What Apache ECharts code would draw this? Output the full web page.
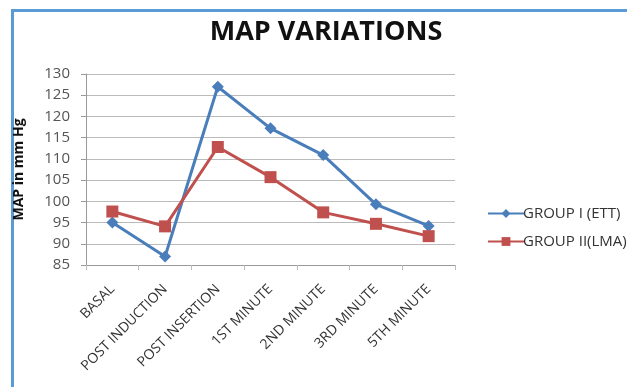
<!DOCTYPE html>
<html>
<head>
<meta charset="utf-8">
<script src="https://cdn.jsdelivr.net/npm/echarts@6/dist/echarts.min.js"></script>
<style>
  html, body { margin: 0; padding: 0; background: #fff; }
  #chart { width: 627px; height: 387px; }
</style>
</head>
<body>
<div id="chart"></div>
<script>
var categories = ['BASAL', 'POST INDUCTION', 'POST INSERTION', '1ST MINUTE', '2ND MINUTE', '3RD MINUTE', '5TH MINUTE'];
var groupI = [95, 87, 127, 117.2, 110.9, 99.3, 94.2];
var groupII = [97.6, 94.1, 112.8, 105.7, 97.4, 94.7, 91.8];
var seriesNames = ['GROUP I (ETT)', 'GROUP II(LMA)'];

var chart = echarts.init(document.getElementById('chart'));

var option = {
    backgroundColor: '#fff',
    animation: false,
    title: {
        text: 'MAP VARIATIONS',
        left: 321,
        textAlign: 'center',
        top: 14,
        textStyle: { fontFamily: 'Open Sans', fontSize: 27, fontWeight: 'bold', color: '#111' }
    },
    graphic: [{
        type: 'polyline',
        shape: { points: [[12.5, 387], [12.5, 10.5], [627, 10.5]] },
        style: { stroke: '#5b9bd5', lineWidth: 3, fill: null }
    }],
    legend: {
        orient: 'vertical',
        left: 482,
        top: 201,
        itemGap: 13,
        itemWidth: 36,
        itemHeight: 11,
        textStyle: { fontFamily: 'Open Sans', fontSize: 15, color: '#333', padding: [0, 0, 0, -6] },
        data: seriesNames
    },
    grid: { left: 86, right: 172, top: 74, bottom: 122 },
    xAxis: {
        type: 'category',
        data: categories,
        boundaryGap: true,
        axisLine: { lineStyle: { color: '#999', width: 1 } },
        axisTick: { show: true, alignWithLabel: false, length: 5, lineStyle: { color: '#bbb' } },
        axisLabel: {
            rotate: 45,
            interval: 0,
            margin: 22,
            fontFamily: 'Open Sans',
            fontSize: 14,
            color: '#333'
        }
    },
    yAxis: {
        type: 'value',
        min: 85,
        max: 130,
        interval: 5,
        name: 'MAP in mm Hg',
        nameLocation: 'middle',
        nameGap: 60,
        nameTextStyle: { fontFamily: 'Open Sans', fontSize: 14, fontWeight: 'bold', color: '#111' },
        axisLine: { show: true, lineStyle: { color: '#999' } },
        axisTick: { show: true, length: 5, lineStyle: { color: '#999' } },
        axisLabel: { fontFamily: 'Open Sans', fontSize: 15, color: '#555', margin: 16 },
        splitLine: { lineStyle: { color: '#bbb', width: 1 } }
    },
    series: [{
        name: seriesNames[0],
        type: 'line',
        data: groupI,
        color: '#4a7ebb',
        symbol: 'diamond',
        symbolSize: 12,
        lineStyle: { width: 3 }
    }, {
        name: seriesNames[1],
        type: 'line',
        data: groupII,
        color: '#c0504d',
        symbol: 'rect',
        symbolSize: 12,
        lineStyle: { width: 3 }
    }]
};

chart.setOption(option);
</script>
</body>
</html>
